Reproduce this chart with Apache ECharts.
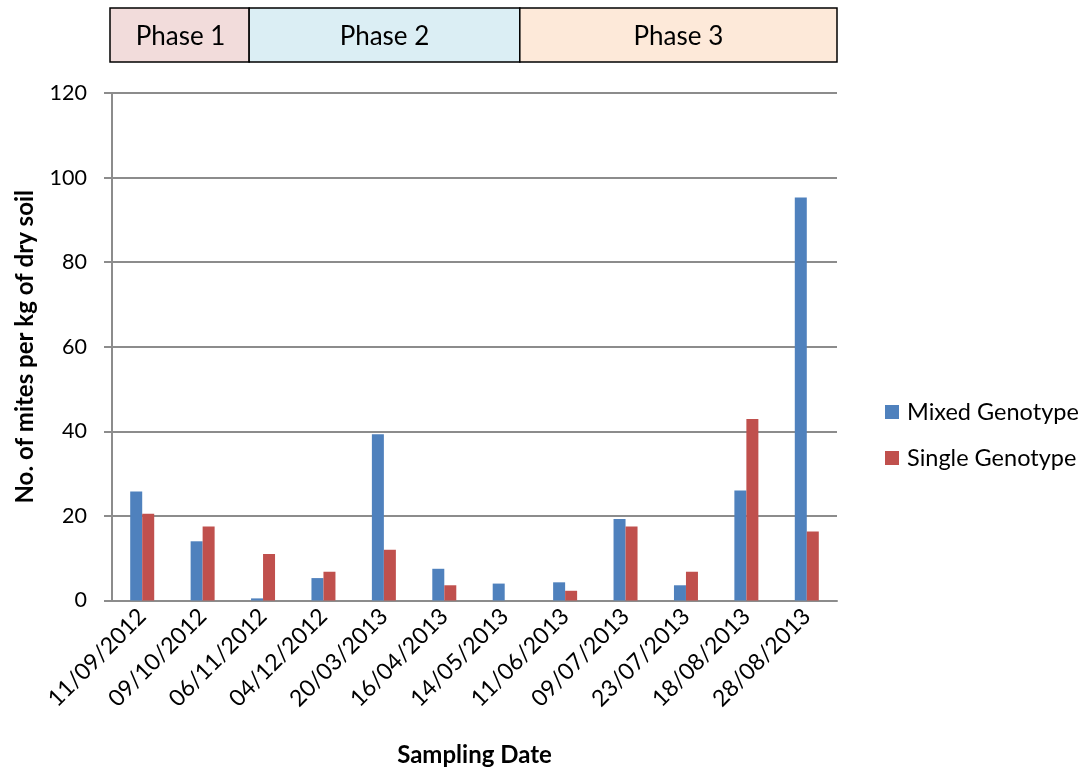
<!DOCTYPE html>
<html>
<head>
<meta charset="utf-8">
<script src="https://cdn.jsdelivr.net/npm/echarts@6/dist/echarts.min.js"></script>
<style>
  html, body { margin: 0; padding: 0; background: #fff; }
  #chart { width: 1089px; height: 771px; }
</style>
</head>
<body>
<div id="chart"></div>
<script>
// Sampling dates (categories)
const dates = ['11/09/2012', '09/10/2012', '06/11/2012', '04/12/2012', '20/03/2013', '16/04/2013',
  '14/05/2013', '11/06/2013', '09/07/2013', '23/07/2013', '18/08/2013', '28/08/2013'];

// Mites per kg of dry soil
const mixedGenotype = [25.8, 14.0, 0.5, 5.3, 39.3, 7.5, 4.0, 4.3, 19.3, 3.6, 26.0, 95.3];
const singleGenotype = [20.5, 17.5, 11.0, 6.8, 12.0, 3.6, 0, 2.3, 17.5, 6.8, 42.9, 16.3];

// Experiment phases, with their start/end expressed in category widths
const phaseNames = ['Phase 1', 'Phase 2', 'Phase 3'];
const phaseBounds = [0, 2.27, 6.75, 12];
const phaseColors = ['#f2dcdb', '#dbeef4', '#fde9d9'];

const FONT = 'Lato, "Open Sans", sans-serif';
const GRID = { left: 112, top: 93, width: 725, height: 507.5 };

const chart = echarts.init(document.getElementById('chart'));

const phaseGraphics = [];
phaseNames.forEach((name, i) => {
  const x0 = GRID.left + phaseBounds[i] * GRID.width / dates.length;
  const x1 = GRID.left + phaseBounds[i + 1] * GRID.width / dates.length;
  phaseGraphics.push({
    type: 'rect',
    shape: { x: x0 - (i === 0 ? 2 : 0), y: 8, width: x1 - x0 + (i === 0 ? 2 : 0), height: 54 },
    style: { fill: phaseColors[i], stroke: '#000', lineWidth: 1.5 }
  });
  phaseGraphics.push({
    type: 'text',
    x: (x0 + x1) / 2,
    y: 37,
    style: {
      text: name, fill: '#000', font: '26px ' + FONT,
      textAlign: 'center', textVerticalAlign: 'middle'
    }
  });
});

chart.setOption({
  animation: false,
  textStyle: { fontFamily: FONT },
  grid: {
    left: GRID.left, top: GRID.top, width: GRID.width, height: GRID.height,
    containLabel: false, outerBoundsMode: 'none'
  },
  legend: {
    orient: 'vertical',
    left: 880,
    top: 395,
    itemWidth: 14,
    itemHeight: 14,
    itemGap: 22,
    icon: 'rect',
    textStyle: { fontSize: 23.5, color: '#000', fontFamily: FONT, padding: [0, 0, 0, 3] },
    data: ['Mixed Genotype', 'Single Genotype']
  },
  xAxis: {
    type: 'category',
    data: dates,
    name: 'Sampling Date',
    nameLocation: 'middle',
    nameGap: 143,
    nameTextStyle: { fontSize: 24, fontWeight: 'bold', color: '#000', fontFamily: FONT },
    axisLine: { lineStyle: { color: '#8c8c8c', width: 2 } },
    axisTick: { show: false },
    axisLabel: { rotate: 45, fontSize: 23, color: '#000', margin: 12, interval: 0, fontFamily: FONT }
  },
  yAxis: {
    type: 'value',
    min: 0,
    max: 120,
    interval: 20,
    name: 'No. of mites per kg of dry soil',
    nameLocation: 'middle',
    nameGap: 75,
    nameTextStyle: { fontSize: 24, fontWeight: 'bold', color: '#000', fontFamily: FONT },
    axisLine: { show: true, lineStyle: { color: '#8c8c8c', width: 2 } },
    axisTick: { show: true, length: 8, lineStyle: { color: '#8c8c8c', width: 2 } },
    axisLabel: { fontSize: 21.5, color: '#000', margin: 25, fontFamily: FONT },
    splitLine: { lineStyle: { color: '#8c8c8c', width: 2 } }
  },
  series: [
    {
      name: 'Mixed Genotype',
      type: 'bar',
      data: mixedGenotype,
      barWidth: 12,
      barGap: '0%',
      itemStyle: { color: '#4f81bd' }
    },
    {
      name: 'Single Genotype',
      type: 'bar',
      data: singleGenotype,
      barWidth: 12,
      barGap: '0%',
      itemStyle: { color: '#c0504d' }
    }
  ],
  graphic: phaseGraphics
});
</script>
</body>
</html>
